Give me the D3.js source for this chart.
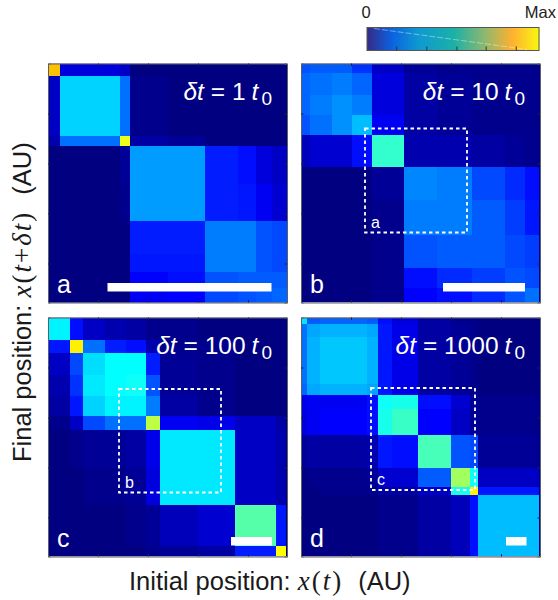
<!DOCTYPE html>
<html>
<head>
<meta charset="utf-8">
<script src="https://cdnjs.cloudflare.com/ajax/libs/d3/7.8.5/d3.min.js"></script>
<style>
  body { margin: 0; background: #fff; }
  text { font-family: "Liberation Sans", sans-serif; }
</style>
</head>
<body>
<script>
// bin edges along the position axis (AU) and cell values (percent of colour range)
var aEdges = [0, 12, 72, 82, 120, 157, 190, 208, 224, 239];
var aValues = [
  [75, 8, 6, 0, 0, 0, 0, 0, 0],
  [6, 31, 22, 1, 0, 0, 0, 0, 0],
  [4, 22, 63, 3, 2, 0, 0, 0, 0],
  [0, 0, 2, 26, 26, 14, 12, 8, 6],
  [0, 0, 1, 26, 26, 14, 13, 10, 7],
  [0, 0, 0, 14, 14, 23, 23, 19, 18],
  [0, 0, 0, 13, 13, 23, 23, 19, 18],
  [0, 0, 0, 11, 12, 19, 20, 20, 20],
  [0, 0, 0, 10, 11, 18, 19, 20, 21]
];

var bEdges = [0, 9, 31, 51, 71, 103, 136, 171, 204, 224, 238];
var bValues = [
  [19, 20, 20, 16, 6, 2, 1, 1, 1, 1],
  [21, 22, 23, 21, 8, 3, 2, 1, 1, 1],
  [21, 23, 25, 23, 8, 3, 2, 1, 1, 1],
  [19, 22, 25, 29, 10, 3, 2, 1, 1, 1],
  [5, 7, 7, 12, 42, 4, 4, 3, 2, 1],
  [0, 0, 0, 0, 2, 24, 23, 18, 15, 12],
  [0, 0, 0, 0, 1, 23, 23, 20, 17, 13],
  [0, 0, 0, 0, 1, 19, 20, 20, 18, 17],
  [0, 0, 0, 0, 1, 12, 15, 17, 19, 18],
  [0, 0, 0, 0, 1, 11, 12, 15, 19, 22]
];

var cEdges = [0, 22, 35, 57, 78, 98, 112, 150, 187, 228, 238];
var cValues = [
  [34, 12, 6, 4, 3, 1, 1, 0, 0, 0],
  [13, 67, 22, 14, 12, 4, 1, 1, 0, 0],
  [6, 18, 32, 35, 35, 14, 2, 1, 0, 0],
  [4, 16, 33, 35, 36, 19, 2, 1, 0, 0],
  [3, 13, 31, 34, 34, 23, 3, 1, 0, 0],
  [1, 6, 18, 22, 22, 58, 10, 9, 6, 3],
  [0, 1, 2, 2, 3, 9, 33, 33, 6, 4],
  [0, 0, 1, 1, 2, 8, 33, 33, 6, 4],
  [0, 0, 0, 0, 1, 2, 5, 7, 47, 13],
  [0, 0, 0, 0, 0, 1, 2, 3, 14, 65]
];

var dEdges = [0, 6, 19, 66, 77, 91, 117, 150, 169, 177, 238];
var dValues = [
  [33, 20, 21, 20, 12, 8, 3, 1, 1, 0],
  [22, 27, 28, 27, 13, 9, 3, 2, 1, 0],
  [22, 28, 30, 28, 13, 9, 3, 2, 1, 0],
  [21, 27, 28, 27, 13, 9, 3, 2, 1, 0],
  [9, 10, 10, 12, 36, 38, 12, 7, 2, 1],
  [8, 10, 11, 12, 38, 43, 11, 6, 2, 1],
  [2, 3, 3, 4, 13, 12, 45, 19, 18, 2],
  [0, 1, 1, 2, 7, 7, 20, 55, 36, 6],
  [0, 0, 1, 1, 3, 3, 6, 38, 67, 13],
  [0, 0, 0, 0, 1, 1, 3, 5, 12, 29]
];

var panelLabels = ["a", "b", "c", "d"];
var timeLabels = ["1", "10", "100", "1000"];
var insetLabels = [null, "a", "b", "c"];
var axisTicks = [50, 100, 150, 200];

// colour bar on top
var barStops = [0, 0.14, 0.3, 0.5, 0.68, 0.84, 1];
var barColors = ["#352a87", "#0b62e0", "#0f9ad0", "#1ab0a8", "#8cb870", "#ffb030", "#f8f810"];
var barTicks = [0.17, 0.345, 0.52, 0.69, 0.865];

var svg = d3.select("body").append("svg")
  .attr("width", 558)
  .attr("height", 600);

var defs = svg.append("defs");
var blur = defs.append("filter").attr("id", "soft")
  .attr("x", "-5%").attr("y", "-5%").attr("width", "110%").attr("height", "110%");
blur.append("feGaussianBlur").attr("stdDeviation", 0.55);

// jet colormap, the panels are drawn with this one
var jet = d3.scaleLinear()
  .domain([0, 0.11, 0.235, 0.35, 0.47, 0.65, 0.75, 1])
  .range(["#000080", "#0000ff", "#0080ff", "#00ffff", "#55ffaa", "#ffff00", "#ffc000", "#800000"])
  .clamp(true);

function drawPanel(i, edges, values, left, top, size, scaleBar, box) {
  var x = d3.scaleLinear().domain([0, 239]).range([0, size]);
  var y = d3.scaleLinear().domain([0, 239]).range([0, size]);

  var g = svg.append("g").attr("transform", "translate(" + left + "," + top + ")");

  defs.append("clipPath").attr("id", "clip" + i)
    .append("rect").attr("width", size).attr("height", size);

  var clipped = g.append("g").attr("clip-path", "url(#clip" + i + ")");
  clipped.append("rect")
    .attr("width", size)
    .attr("height", size)
    .attr("fill", jet(0));

  var cells = clipped.append("g").attr("filter", "url(#soft)");
  values.forEach(function(row, r) {
    row.forEach(function(v, c) {
      cells.append("rect")
        .attr("x", x(edges[c]))
        .attr("y", y(edges[r]))
        .attr("width", x(edges[c + 1]) - x(edges[c]))
        .attr("height", y(edges[r + 1]) - y(edges[r]))
        .attr("shape-rendering", "crispEdges")
        .attr("fill", jet(v / 100));
    });
  });

  // small ticks pointing inside the frame
  var axes = [
    d3.axisBottom(x).tickSize(-2.5),
    d3.axisTop(x).tickSize(-2.5),
    d3.axisRight(y).tickSize(-2.5),
    d3.axisLeft(y).tickSize(-2.5)
  ];
  var shifts = ["0," + size, "0,0", size + ",0", "0,0"];
  axes.forEach(function(axis, k) {
    var a = g.append("g")
      .attr("transform", "translate(" + shifts[k] + ")")
      .call(axis.tickValues(axisTicks).tickFormat(""));
    a.selectAll("line").attr("stroke", "#223");
    a.select(".domain").attr("stroke", "#5a6068").attr("stroke-width", 1);
  });

  // scale bar
  g.append("rect")
    .attr("x", x(scaleBar[0]))
    .attr("y", size - 19.5)
    .attr("width", x(scaleBar[1]) - x(scaleBar[0]))
    .attr("height", 8.5)
    .attr("fill", "#fff");

  // dashed box showing where the previous panel sits
  if (box) {
    g.append("rect")
      .attr("x", x(box[0]))
      .attr("y", y(box[1]))
      .attr("width", x(box[2]) - x(box[0]))
      .attr("height", y(box[3]) - y(box[1]))
      .attr("fill", "none")
      .attr("stroke", "#fff")
      .attr("stroke-width", 1.8)
      .attr("stroke-dasharray", "3.5,3");
    g.append("text")
      .attr("x", x(box[0]) + 6)
      .attr("y", y(box[3]) - 5)
      .attr("fill", "#fff")
      .style("font-size", "16px")
      .text(insetLabels[i]);
  }

  // panel letter
  g.append("text")
    .attr("x", 9)
    .attr("y", size - 10)
    .attr("fill", "#fff")
    .style("font-size", "25px")
    .text(panelLabels[i]);

  // time step label
  var t = g.append("text")
    .attr("x", 224)
    .attr("y", 36)
    .attr("fill", "#fff")
    .attr("text-anchor", "end")
    .style("font-size", "24.5px");
  t.append("tspan").style("font-style", "italic").text("δt");
  t.append("tspan").attr("dx", 7).text("= " + timeLabels[i]);
  t.append("tspan").attr("dx", 6).style("font-style", "italic").text("t");
  t.append("tspan").attr("dx", 3).attr("dy", 5).style("font-size", "19px").text("0");
}

drawPanel(0, aEdges, aValues, 48, 63.5, 239, [59.5, 223.5], null);
drawPanel(1, bEdges, bValues, 301, 63.5, 239, [142, 224], [64, 65, 166, 169]);
drawPanel(2, cEdges, cValues, 48, 317.5, 239, [183, 224], [71, 71.5, 173, 175]);
drawPanel(3, dEdges, dValues, 301, 317.5, 239, [205, 225.5], [70, 70.5, 174, 172.5]);

// colour bar
var barX = d3.scaleLinear().domain([0, 1]).range([367, 539]);
var barColor = d3.scaleLinear().domain(barStops).range(barColors);
var barSteps = d3.range(0, 1, 1 / 172);
var barG = svg.append("g").attr("transform", "translate(0,27.5)");
barG.selectAll("rect").data(barSteps).enter().append("rect")
  .attr("x", function(d) { return barX(d); })
  .attr("y", 0)
  .attr("width", 1.5)
  .attr("height", 23)
  .attr("fill", function(d) { return barColor(d); });
barG.append("line")
  .attr("x1", barX(0.04)).attr("y1", 1)
  .attr("x2", barX(0.93)).attr("y2", 22)
  .attr("stroke", "#fff")
  .attr("stroke-opacity", 0.4)
  .attr("stroke-dasharray", "6,2");
barG.append("rect")
  .attr("x", 367).attr("width", 172).attr("height", 23)
  .attr("fill", "none")
  .attr("stroke", "#555");
barG.append("g")
  .attr("transform", "translate(0,23)")
  .call(d3.axisBottom(barX).tickValues(barTicks).tickSize(-4).tickFormat(""))
  .call(function(a) {
    a.select(".domain").remove();
    a.selectAll("line").attr("stroke", "#333");
  });

svg.append("text")
  .attr("x", 366).attr("y", 18)
  .attr("text-anchor", "middle")
  .attr("fill", "#222")
  .style("font-size", "16.5px")
  .text("0");
svg.append("text")
  .attr("x", 556).attr("y", 18)
  .attr("text-anchor", "end")
  .attr("fill", "#222")
  .style("font-size", "16.5px")
  .text("Max");

// axis titles, the math parts are in a serif face
function mathPart(sel, str, italic) {
  return sel.append("tspan")
    .style("font-family", "'Liberation Serif', serif")
    .style("font-style", italic ? "italic" : "normal")
    .style("font-size", "27px")
    .style("letter-spacing", "2px")
    .text(str);
}

var xTitle = svg.append("text")
  .attr("x", 129).attr("y", 590)
  .attr("fill", "#1a1a1a")
  .style("font-size", "25.5px");
xTitle.append("tspan").text("Initial position: ");
mathPart(xTitle, "x", true);
mathPart(xTitle, "(", false);
mathPart(xTitle, "t", true);
mathPart(xTitle, ")", false);
xTitle.append("tspan").attr("dx", 15).text("(AU)");

var yTitle = svg.append("text")
  .attr("transform", "translate(31,462) rotate(-90)")
  .attr("fill", "#1a1a1a")
  .style("font-size", "25.5px");
yTitle.append("tspan").text("Final position: ");
mathPart(yTitle, "x", true);
mathPart(yTitle, "(", false);
mathPart(yTitle, "t", true);
mathPart(yTitle, "+", false);
mathPart(yTitle, "δt", true);
mathPart(yTitle, ")", false);
yTitle.append("tspan").attr("dx", 16).text("(AU)");
</script>
</body>
</html>
